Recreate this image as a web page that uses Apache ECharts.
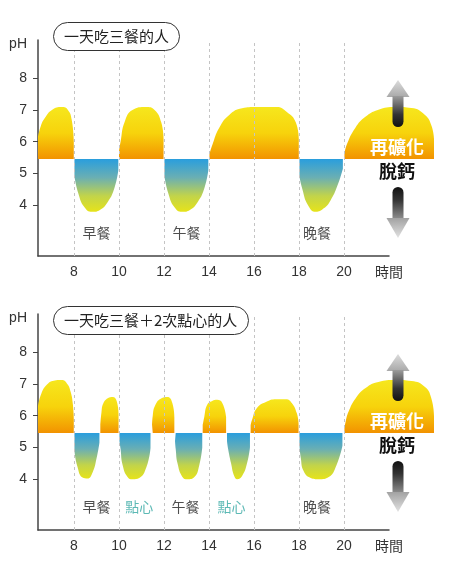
<!DOCTYPE html>
<html>
<head>
<meta charset="utf-8">
<script src="https://cdn.jsdelivr.net/npm/echarts@6/dist/echarts.min.js"></script>
<style>
  html, body { margin: 0; padding: 0; background: #fff; }
  #chart { width: 460px; height: 571px; }
</style>
</head>
<body>
<div id="chart"></div>
<script>
const hours = [8, 10, 12, 14, 16, 18, 20];
const hourLabels = [8, 10, 12, 14, 16, 18, 20, 22];
const phTicks = [4, 5, 6, 7, 8];
const basePh = 5.45;
const labelPh = 3.12;
const titles = ['一天吃三餐的人', '一天吃三餐＋2次點心的人'];

// panel 1: three meals
const mealHumps = [
    [[6.4, 6.15], [6.53, 6.5], [6.71, 6.75], [7.02, 7.0], [7.46, 7.09], [7.73, 7.0], [7.9, 6.68], [7.99, 6.0]],
    [[10.0, 5.7], [10.07, 6.0], [10.25, 6.62], [10.6, 7.0], [11.2, 7.09], [11.58, 7.0], [11.88, 6.6], [11.98, 6.1]],
    [[14.02, 5.6], [14.15, 5.9], [14.45, 6.43], [14.9, 6.84], [15.47, 7.05], [16.1, 7.09], [17.0, 7.09], [17.46, 6.93], [17.86, 6.6], [17.99, 6.1]],
    [[20.02, 5.6], [20.12, 5.9], [20.5, 6.43], [20.95, 6.78], [21.5, 7.0], [22.3, 7.09], [23.0, 7.06], [23.6, 6.84], [23.88, 6.52], [24.0, 6.1]]
];
const mealDips = [
    [[8.02, 4.9], [8.2, 4.35], [8.45, 3.95], [8.8, 3.79], [9.15, 3.85], [9.5, 4.1], [9.8, 4.55], [9.97, 5.1]],
    [[12.02, 4.9], [12.2, 4.35], [12.45, 3.95], [12.8, 3.79], [13.15, 3.85], [13.5, 4.1], [13.8, 4.55], [13.97, 5.1]],
    [[18.02, 4.9], [18.15, 4.5], [18.4, 4.0], [18.75, 3.79], [19.1, 3.9], [19.4, 4.15], [19.7, 4.6], [19.95, 5.15]]
];
const mealNames = ['早餐', '午餐', '晚餐'];
const mealNameX = [9, 13, 18.8];

// panel 2: three meals + 2 snacks
const snackHumps = [
    [[6.4, 6.3], [6.55, 6.7], [6.8, 6.98], [7.1, 7.1], [7.45, 7.12], [7.7, 7.0], [7.85, 6.75], [7.95, 6.35], [7.99, 5.9]],
    [[9.17, 5.7], [9.22, 6.1], [9.3, 6.38], [9.5, 6.55], [9.72, 6.59], [9.9, 6.45], [9.98, 6.05]],
    [[11.47, 5.7], [11.5, 6.0], [11.62, 6.34], [11.89, 6.55], [12.15, 6.59], [12.37, 6.4], [12.46, 5.96]],
    [[13.72, 5.7], [13.79, 5.96], [13.92, 6.34], [14.14, 6.46], [14.36, 6.5], [14.59, 6.4], [14.76, 5.96]],
    [[15.85, 5.7], [15.91, 5.86], [16.13, 6.24], [16.53, 6.43], [16.98, 6.52], [17.42, 6.52], [17.68, 6.4], [17.9, 6.08], [17.98, 5.77]],
    [[20.02, 5.6], [20.07, 5.8], [20.2, 6.12], [20.52, 6.55], [20.96, 6.87], [21.53, 7.06], [22.29, 7.12], [23.0, 7.09], [23.6, 6.9], [23.88, 6.55], [24.0, 6.0]]
];
const snackDips = [
    [[8.02, 4.9], [8.15, 4.4], [8.38, 4.05], [8.6, 4.02], [8.83, 4.22], [9.0, 4.65], [9.13, 5.15]],
    [[10.02, 5.2], [10.07, 4.95], [10.16, 4.45], [10.38, 4.07], [10.6, 4.0], [10.9, 4.04], [11.22, 4.38], [11.4, 4.98]],
    [[12.49, 5.2], [12.52, 4.95], [12.6, 4.5], [12.82, 4.07], [13.04, 4.0], [13.35, 4.07], [13.57, 4.45], [13.7, 5.0]],
    [[14.8, 5.2], [14.85, 4.95], [14.98, 4.5], [15.12, 4.1], [15.25, 4.0], [15.47, 4.1], [15.69, 4.5], [15.82, 5.0]],
    [[18.02, 5.1], [18.08, 4.67], [18.21, 4.25], [18.52, 4.04], [18.88, 4.0], [19.32, 4.07], [19.67, 4.45], [19.93, 5.05]]
];
const snackNames = ['早餐', '點心', '午餐', '點心', '晚餐'];
const snackNameX = [9, 10.9, 12.95, 15.0, 18.8];

const CJK = '"Noto Sans CJK TC", "Noto Sans CJK SC", sans-serif';
const LATIN = '"Liberation Sans", Arial, sans-serif';

document.addEventListener('DOMContentLoaded', function () {
    const chart = echarts.init(document.getElementById('chart'));

    const panelTops = [40, 314];
    const hourPx = 22.5;

    function humpColor() {
        return new echarts.graphic.LinearGradient(0, 0, 0, 1, [
            { offset: 0, color: '#f6e71d' },
            { offset: 0.5, color: '#f7d30c' },
            { offset: 1, color: '#f29200' }
        ]);
    }

    function dipColor() {
        return new echarts.graphic.LinearGradient(0, 0, 0, 1, [
            { offset: 0, color: '#2a9edd' },
            { offset: 0.35, color: '#6aafb3' },
            { offset: 0.7, color: '#c2d44a' },
            { offset: 1, color: '#e6e31a' }
        ]);
    }

    function areaSeries(points, gi, color) {
        return {
            type: 'line',
            xAxisIndex: gi,
            yAxisIndex: gi,
            data: points,
            smooth: 0.5,
            symbol: 'none',
            showSymbol: false,
            clip: false,
            silent: true,
            z: 2,
            lineStyle: { width: 0 },
            areaStyle: { origin: basePh, opacity: 1, color: color }
        };
    }

    function gridLineSeries(gi) {
        return {
            type: 'line',
            xAxisIndex: gi,
            yAxisIndex: gi,
            data: [],
            silent: true,
            z: 1,
            markLine: {
                silent: true,
                symbol: ['none', 'none'],
                label: { show: false },
                lineStyle: { color: '#c4c4c4', type: [3, 3], width: 1 },
                data: hours.map(h => ({ xAxis: h }))
            }
        };
    }

    function labelSeries(names, xs, gi) {
        return {
            type: 'scatter',
            xAxisIndex: gi,
            yAxisIndex: gi,
            symbolSize: 0,
            silent: true,
            z: 5,
            label: {
                show: true,
                position: 'inside',
                formatter: '{b}',
                fontSize: 14,
                fontFamily: CJK,
                color: '#222'
            },
            data: names.map((n, i) => ({
                name: n,
                value: [xs[i], labelPh],
                label: { color: n === '點心' ? '#35a7a2' : '#222' }
            }))
        };
    }

    function sideGraphics(dy) {
        const font = 'bold 18px ' + CJK;
        return [
            {
                type: 'polygon', z: 100,
                shape: { points: [[398, 80 + dy], [386.5, 97 + dy], [409.5, 97 + dy]] },
                style: { fill: new echarts.graphic.LinearGradient(0, 0, 0, 1, [
                    { offset: 0, color: '#dcdcdc' }, { offset: 1, color: '#a9a9a9' }]) }
            },
            {
                type: 'rect', z: 100,
                shape: { x: 392.5, y: 96 + dy, width: 11, height: 31, r: [0, 0, 5.5, 5.5] },
                style: { fill: new echarts.graphic.LinearGradient(0, 0, 0, 1, [
                    { offset: 0, color: '#9c9c9c' }, { offset: 0.6, color: '#333' }, { offset: 1, color: '#111' }]) }
            },
            {
                type: 'text', z: 100,
                style: { text: '再礦化', x: 397, y: 147 + dy, font: font, fill: '#fff',
                    textAlign: 'center', textVerticalAlign: 'middle', align: 'center', verticalAlign: 'middle' }
            },
            {
                type: 'text', z: 100,
                style: { text: '脫鈣', x: 397, y: 171 + dy, font: font, fill: '#111',
                    textAlign: 'center', textVerticalAlign: 'middle', align: 'center', verticalAlign: 'middle' }
            },
            {
                type: 'rect', z: 100,
                shape: { x: 392.5, y: 187 + dy, width: 11, height: 32, r: [5.5, 5.5, 0, 0] },
                style: { fill: new echarts.graphic.LinearGradient(0, 0, 0, 1, [
                    { offset: 0, color: '#111' }, { offset: 0.4, color: '#333' }, { offset: 1, color: '#8e8e8e' }]) }
            },
            {
                type: 'polygon', z: 100,
                shape: { points: [[386.5, 218 + dy], [409.5, 218 + dy], [398, 238 + dy]] },
                style: { fill: new echarts.graphic.LinearGradient(0, 0, 0, 1, [
                    { offset: 0, color: '#a2a2a2' }, { offset: 1, color: '#e2e2e2' }]) }
            }
        ];
    }

    // grids 0,1 hold the curves (6.4 to 24 h); grids 2,3 carry the visible axes (6.4 to 22 h)
    const dataMax = 24;
    const axisMax = 22;
    const grids = panelTops.map(top => ({ left: 38, top: top, width: (dataMax - 6.4) * hourPx, height: 216 }))
        .concat(panelTops.map(top => ({ left: 38, top: top, width: (axisMax - 6.4) * hourPx, height: 216 })));

    const hiddenX = panelTops.map((_, i) => ({
        type: 'value', gridIndex: i, min: 6.4, max: dataMax, show: false
    }));
    const hiddenY = panelTops.map((_, i) => ({
        type: 'value', gridIndex: i, min: 2.4, max: 9.2, show: false
    }));

    const visibleX = panelTops.map((_, i) => ({
        type: 'value',
        gridIndex: i + 2,
        min: 6.4,
        max: axisMax,
        axisLine: { show: true, lineStyle: { color: '#444', width: 1.5 } },
        axisTick: { show: false },
        splitLine: { show: false },
        axisLabel: {
            customValues: hourLabels,
            margin: 9,
            fontSize: 14,
            fontFamily: LATIN,
            color: '#333',
            formatter: v => (v === 22 ? '{n|時間}' : String(v)),
            rich: { n: { fontSize: 14, fontFamily: CJK, color: '#333' } }
        }
    }));

    const visibleY = panelTops.map((_, i) => ({
        type: 'value',
        gridIndex: i + 2,
        min: 2.4,
        max: 9.2,
        axisLine: { show: true, lineStyle: { color: '#444', width: 1.5 } },
        axisTick: { show: true, customValues: phTicks, length: 5, lineStyle: { color: '#444', width: 1 } },
        splitLine: { show: false },
        axisLabel: {
            customValues: phTicks.concat([9.07]),
            margin: 11,
            fontSize: 14,
            fontFamily: LATIN,
            color: '#333',
            formatter: v => (v > 9 ? 'pH' : String(v))
        }
    }));

    const series = [
        gridLineSeries(0),
        gridLineSeries(1),
        ...mealHumps.map(p => areaSeries(p, 0, humpColor())),
        ...mealDips.map(p => areaSeries(p, 0, dipColor())),
        ...snackHumps.map(p => areaSeries(p, 1, humpColor())),
        ...snackDips.map(p => areaSeries(p, 1, dipColor())),
        labelSeries(mealNames, mealNameX, 0),
        labelSeries(snackNames, snackNameX, 1)
    ];

    chart.setOption({
        animation: false,
        backgroundColor: '#fff',
        title: titles.map((t, i) => ({
            text: t,
            left: 53,
            top: [22, 306][i],
            padding: [5, 11, 5, 11],
            borderRadius: 14.5,
            borderWidth: 1,
            borderColor: '#333',
            backgroundColor: '#fff',
            textStyle: { fontSize: 15, fontWeight: 'normal', color: '#222', fontFamily: CJK, lineHeight: 19 }
        })),
        grid: grids,
        xAxis: hiddenX.concat(visibleX),
        yAxis: hiddenY.concat(visibleY),
        graphic: { elements: sideGraphics(0).concat(sideGraphics(274)) },
        series: series
    });
});
</script>
</body>
</html>
